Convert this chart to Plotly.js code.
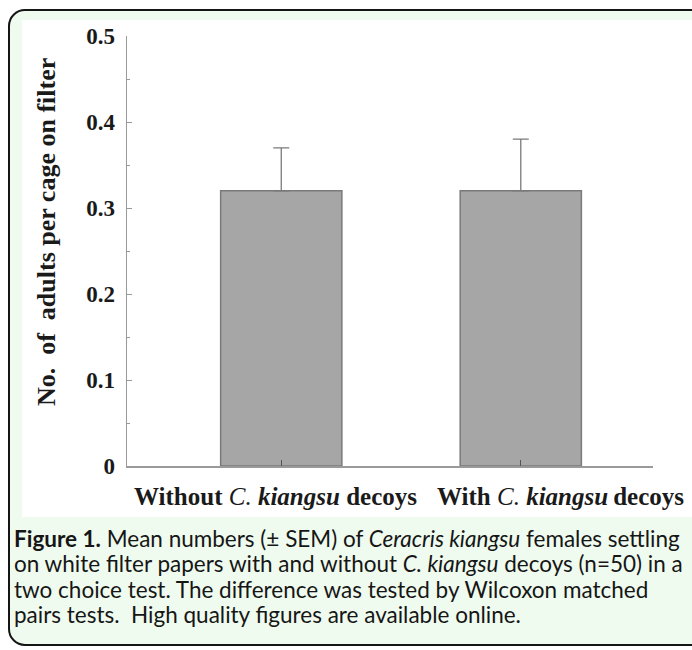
<!DOCTYPE html>
<html>
<head>
<meta charset="utf-8">
<script src="https://cdn.plot.ly/plotly-3.0.1.min.js"></script>
<style>
  html, body { margin: 0; padding: 0; background: #ffffff; width: 692px; height: 650px; overflow: hidden; }
  #frame { position: absolute; left: 8px; top: 9px; width: 720px; height: 637px; box-sizing: border-box;
           border: 2px solid #151515; border-radius: 17px; background: #effbef; }
  #chart { position: absolute; left: 22px; top: 20px; width: 670px; height: 497px; background: #ffffff; }
  #caption { position: absolute; left: 14px; top: 526px; width: 676px; font-family: Lato, "Open Sans", sans-serif;
             font-size: 22.5px; line-height: 25.3px; color: #161616; white-space: nowrap; }
</style>
</head>
<body>
<div id="frame"></div>
<div id="chart"></div>
<div id="caption"><b>Figure 1.</b> Mean numbers (± SEM) of <i>Ceracris kiangsu</i> females settling<br>on white filter papers with and without <i>C. kiangsu</i> decoys (n=50) in a<br>two choice test. The difference was tested by Wilcoxon matched<br>pairs tests.&nbsp; High quality figures are available online.</div>
<script>
// ---- data ----
const categories = ['Without <i>C.</i> <b><i>kiangsu</i></b> decoys', 'With <i>C.</i> <b><i>kiangsu</i></b>&#8201;decoys'];
const meanValues = [0.32, 0.32];
const semValues = [0.05, 0.06];
const yTitle = 'No.&nbsp; of&nbsp; adults per cage on filter';

const xIdx = categories.map((c, i) => i);
const labelShift = [-6, 40];

const trace = {
  type: 'bar',
  x: xIdx,
  y: meanValues,
  width: 0.506,
  marker: { color: '#a6a6a6', line: { color: '#7a7a7a', width: 1.5 } },
  error_y: { type: 'data', symmetric: false, array: semValues, arrayminus: semValues.map(() => 0),
             color: '#7a7a7a', thickness: 1.3, width: 8 },
  hoverinfo: 'none'
};

const serif = '"Liberation Serif", "Times New Roman", serif';

const annotations = categories.map((c, i) => ({
  xref: 'x', yref: 'paper', x: i, y: 0, xshift: labelShift[i], yshift: -30,
  xanchor: 'center', yanchor: 'middle', showarrow: false,
  text: c.replace(/^(\w+)/, '<b>$1</b>').replace(/decoys$/, '<b>decoys</b>'),
  font: { family: serif, size: 25, color: '#1a1a1a' }
}));
annotations.push({
  xref: 'paper', yref: 'paper', x: 0, y: 0.544, xshift: -81, xanchor: 'center', yanchor: 'middle',
  showarrow: false, textangle: -90, text: '<b>' + yTitle + '</b>',
  font: { family: serif, size: 26, color: '#1a1a1a' }
});

const layout = {
  width: 670, height: 497,
  margin: { l: 105, r: 39, t: 16, b: 51 },
  paper_bgcolor: '#ffffff', plot_bgcolor: '#ffffff',
  showlegend: false,
  xaxis: {
    range: [-0.644, 1.552], tickvals: xIdx, showticklabels: false,
    ticks: 'inside', ticklen: 6, tickcolor: '#555', tickwidth: 1,
    showline: true, linecolor: '#9a9a9a', linewidth: 1.5,
    showgrid: false, zeroline: false, fixedrange: true
  },
  yaxis: {
    range: [0, 0.5], dtick: 0.1, tick0: 0,
    ticks: 'inside', ticklen: 5, tickcolor: '#9a9a9a', tickwidth: 1,
    minor: { dtick: 0.05, ticks: 'inside', ticklen: 3, tickcolor: '#9a9a9a' },
    showline: true, linecolor: '#9a9a9a', linewidth: 1.5,
    showgrid: false, zeroline: false, ticklabelstandoff: 6,
    tickfont: { family: serif, size: 23, color: '#1a1a1a', weight: 'bold' }
  },
  annotations: annotations
};

Plotly.newPlot('chart', [trace], layout, { displayModeBar: false, staticPlot: true });
</script>
</body>
</html>
